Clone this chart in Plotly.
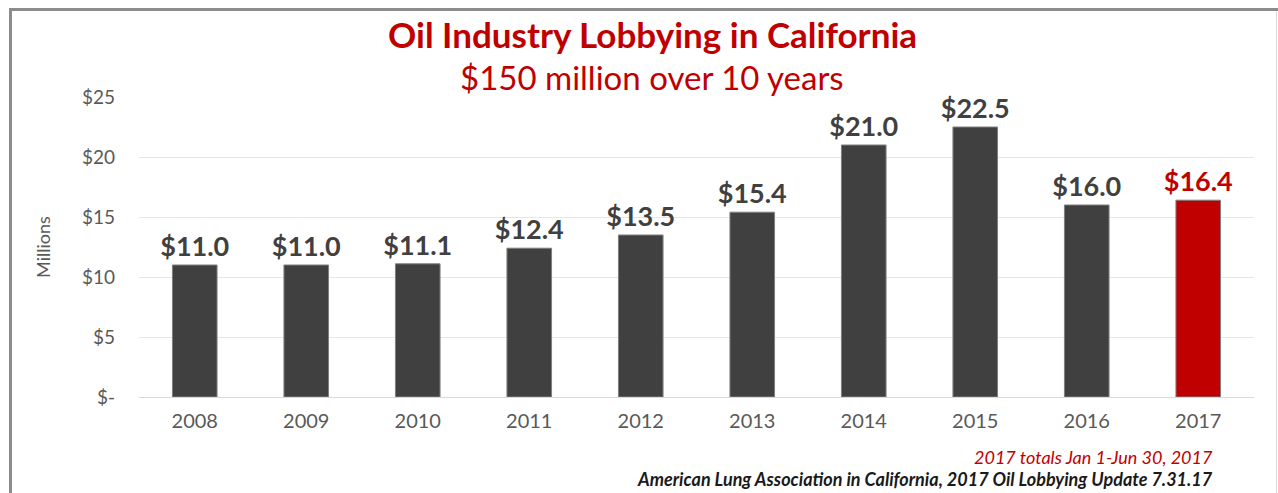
import plotly.graph_objects as go

years = ["2008", "2009", "2010", "2011", "2012", "2013", "2014", "2015", "2016", "2017"]
spending = [11.0, 11.0, 11.1, 12.4, 13.5, 15.4, 21.0, 22.5, 16.0, 16.4]
tick_vals = [0, 5, 10, 15, 20, 25]
tick_text = ["$-", "$5", "$10", "$15", "$20", "$25"]

DARK = "#404040"
RED = "#C00000"
colors = [RED if y == "2017" else DARK for y in years]
labels = [f"${v:.1f}" for v in spending]

W, H = 1278, 493
L, R, T, B = 139, 24, 97, 96
pw, ph = W - L - R, H - T - B


def px_x(x):
    return (x - L) / pw


def px_y(y):
    return (H - B - y) / ph


fig = go.Figure(
    go.Bar(
        x=years,
        y=spending,
        marker=dict(color=colors, line=dict(color="#7f7f7f", width=1)),
        width=0.4,
        text=labels,
        textposition="outside",
        constraintext="none",
        textfont=dict(family="Lato", size=27, color=colors, weight="bold"),
        cliponaxis=False,
        hoverinfo="skip",
    )
)

fig.update_layout(
    width=W,
    height=H,
    margin=dict(l=L, r=R, t=T, b=B),
    paper_bgcolor="white",
    plot_bgcolor="white",
    showlegend=False,
    font=dict(family="Lato", color="#595959"),
    bargap=0.6,
    xaxis=dict(
        type="category",
        tickfont=dict(size=20, color="#595959"),
        showgrid=False,
        showline=True,
        linecolor="#d9d9d9",
        linewidth=1,
        ticks="",
        ticklabelstandoff=6,
    ),
    yaxis=dict(
        range=[0, 25],
        tickvals=tick_vals,
        ticktext=tick_text,
        tickfont=dict(size=19, color="#595959"),
        showgrid=True,
        gridcolor="#e6e6e6",
        gridwidth=1,
        zeroline=False,
        ticks="",
        ticklabelstandoff=23,
        title=dict(text="Millions", font=dict(size=18, color="#595959"), standoff=26),
    ),
    annotations=[
        dict(
            text="<b>Oil Industry Lobbying in California</b>",
            x=px_x(652), y=px_y(34), xref="paper", yref="paper",
            xanchor="center", yanchor="middle", showarrow=False,
            font=dict(family="Lato", size=35, color=RED),
        ),
        dict(
            text="$150 million over 10 years",
            x=px_x(652), y=px_y(77), xref="paper", yref="paper",
            xanchor="center", yanchor="middle", showarrow=False,
            font=dict(family="Lato", size=33, color=RED),
        ),
        dict(
            text="<i>2017 totals Jan 1-Jun 30, 2017</i>",
            x=px_x(1215), y=px_y(457), xref="paper", yref="paper",
            xanchor="right", yanchor="middle", showarrow=False,
            font=dict(family="Lato", size=18, color=RED),
        ),
        dict(
            text="<b><i>American Lung Association in California, 2017 Oil Lobbying Update 7.31.17</i></b>",
            x=px_x(1215), y=px_y(479), xref="paper", yref="paper",
            xanchor="right", yanchor="middle", showarrow=False,
            font=dict(family="Lato", size=18, color="#1a1a1a"),
        ),
    ],
    shapes=[
        dict(type="line", xref="paper", yref="paper",
             x0=px_x(9), x1=px_x(1278), y0=px_y(9.5), y1=px_y(9.5),
             line=dict(color="#8c8c8c", width=3)),
        dict(type="line", xref="paper", yref="paper",
             x0=px_x(10.5), x1=px_x(10.5), y0=px_y(8), y1=px_y(493),
             line=dict(color="#8c8c8c", width=3)),
        dict(type="line", xref="paper", yref="paper",
             x0=px_x(1276.5), x1=px_x(1276.5), y0=px_y(11), y1=px_y(493),
             line=dict(color="#d9d9d9", width=1)),
    ],
)

fig.write_html("out.html")
